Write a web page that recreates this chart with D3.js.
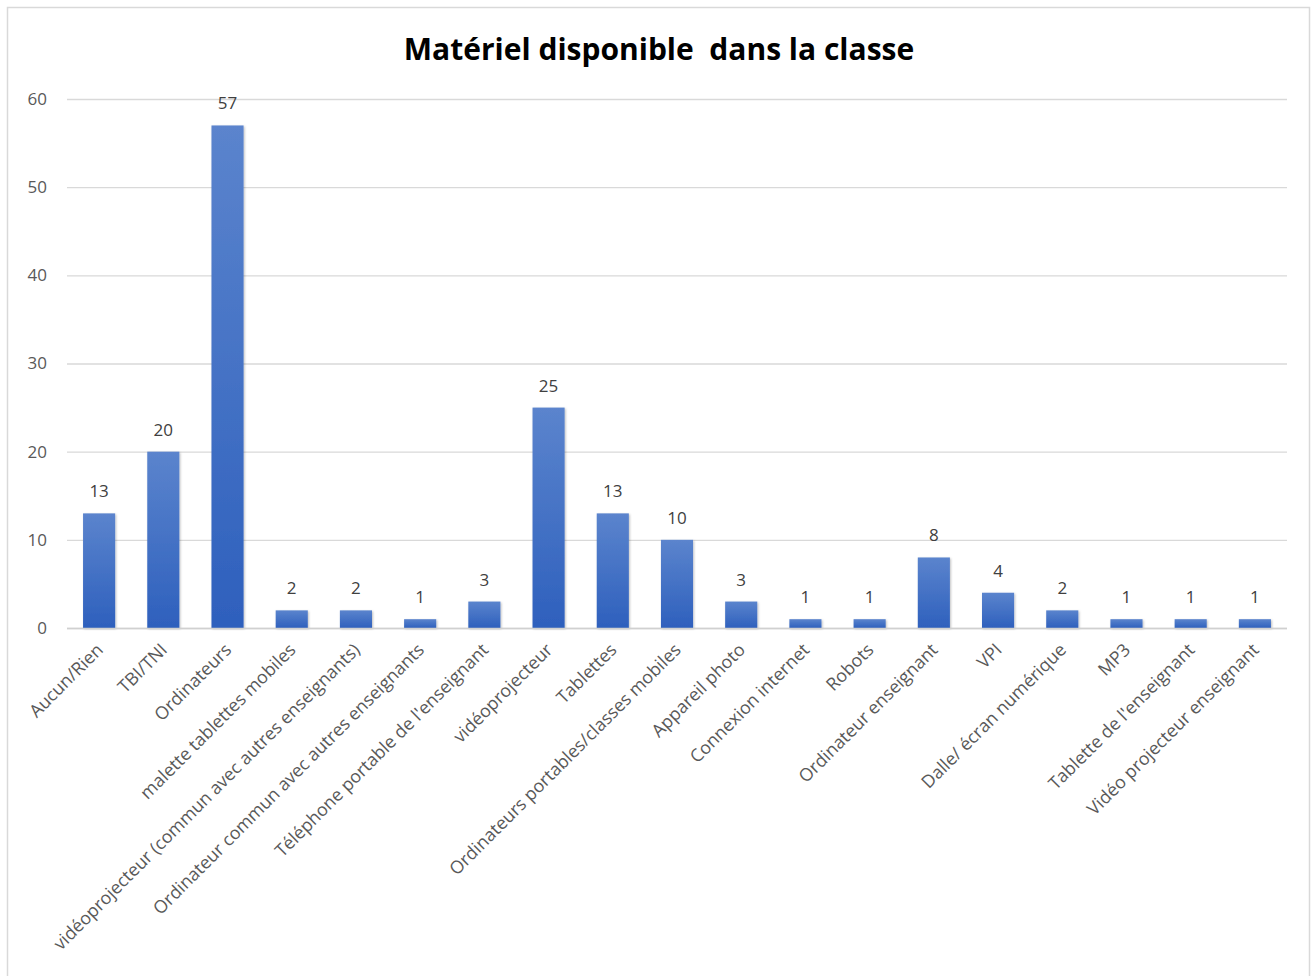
<!DOCTYPE html>
<html><head><meta charset="utf-8">
<script src="https://cdn.jsdelivr.net/npm/d3@7"></script>
<style>body{margin:0;background:#fff}svg{display:block}</style>
</head><body>
<script>
const categories = ["Aucun/Rien","TBI/TNI","Ordinateurs","malette tablettes mobiles","vidéoprojecteur (commun avec autres enseignants)","Ordinateur commun avec autres enseignants","Téléphone portable de l'enseignant","vidéoprojecteur","Tablettes","Ordinateurs portables/classes mobiles","Appareil photo","Connexion internet","Robots","Ordinateur enseignant","VPI","Dalle/ écran numérique","MP3","Tablette de l'enseignant","Vidéo projecteur enseignant"];
const values = [13,20,57,2,2,1,3,25,13,10,3,1,1,8,4,2,1,1,1];
const yTicks = [0,10,20,30,40,50,60];
const title = "Matériel disponible  dans la classe";

(function(){
const W = 1313, H = 976;
const svg = d3.select("body").append("svg").attr("width", W).attr("height", H);
const defs = svg.append("defs");
const grad = defs.append("linearGradient").attr("id","barGrad").attr("x1",0).attr("y1",0).attr("x2",0).attr("y2",1);
grad.append("stop").attr("offset","0%").attr("stop-color","#5b84cd");
grad.append("stop").attr("offset","100%").attr("stop-color","#2e60bd");
const flt = defs.append("filter").attr("id","shadow").attr("x","-20%").attr("y","-20%").attr("width","150%").attr("height","150%");
flt.append("feDropShadow").attr("dx",1).attr("dy",1).attr("stdDeviation",1.2).attr("flood-color","#000").attr("flood-opacity",0.25);

svg.append("rect").attr("x",7.5).attr("y",7.5).attr("width",1302).attr("height",1000)
  .attr("fill","#fff").attr("stroke","#d9d9d9").attr("stroke-width",1.5);

const font = "'Open Sans', 'Segoe UI', sans-serif";
svg.append("text").attr("x",659).attr("y",60).attr("text-anchor","middle")
  .attr("font-family",font).attr("font-weight","bold").attr("font-size",30).attr("fill","#000")
  .style("white-space","pre").text(title);

const pL = 67, pR = 1287, pT = 99, pB = 628;
const x = d3.scaleBand().domain(categories).range([pL,pR]).paddingInner(0.5).paddingOuter(0.25);
const y = d3.scaleLinear().domain([0,60]).range([pB,pT]);

const yAxis = d3.axisLeft(y).tickValues(yTicks).tickSize(-(pR-pL)).tickPadding(20).tickFormat(d3.format("d"));
const gy = svg.append("g").attr("transform",`translate(${pL},0)`).call(yAxis);
gy.select(".domain").remove();
gy.selectAll(".tick line").attr("stroke","#d9d9d9").attr("stroke-width",1.3);
gy.selectAll(".tick text").attr("font-family",font).attr("font-size",17).attr("fill","#595959");

svg.append("g").selectAll("rect").data(values).join("rect")
  .attr("x",(d,i)=>x(categories[i])).attr("width",x.bandwidth())
  .attr("y",d=>y(d)).attr("height",d=>y(0)-y(d))
  .attr("fill","url(#barGrad)").attr("filter","url(#shadow)");

svg.append("line").attr("x1",pL).attr("x2",pR).attr("y1",y(0)+0.5).attr("y2",y(0)+0.5).attr("stroke","#d0d0d0").attr("stroke-width",1.3);

svg.append("g").selectAll("text").data(values).join("text")
  .attr("x",(d,i)=>x(categories[i])+x.bandwidth()/2).attr("y",d=>y(d)-16)
  .attr("text-anchor","middle").attr("font-family",font).attr("font-size",17).attr("fill","#404040")
  .text(d=>d);

const xAxis = d3.axisBottom(x).tickSize(0).tickPadding(0);
const gx = svg.append("g").attr("transform",`translate(0,${pB})`).call(xAxis);
gx.select(".domain").remove();
gx.selectAll(".tick text")
  .attr("font-family",font).attr("font-size",17.8).attr("fill","#595959")
  .attr("text-anchor","end").attr("dy",0).attr("y",0)
  .attr("transform","translate(5,23) rotate(-45)");
})();
</script>
</body></html>
